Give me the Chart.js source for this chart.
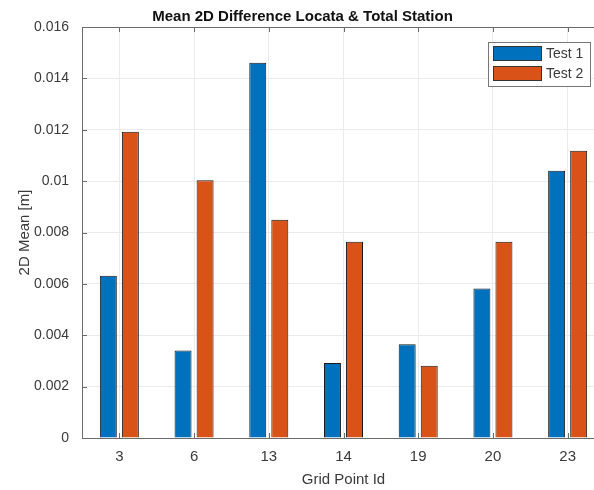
<!DOCTYPE html>
<html>
<head>
<meta charset="utf-8">
<script src="https://cdn.jsdelivr.net/npm/chart.js@4.4.0/dist/chart.umd.min.js"></script>
<style>
  html, body { margin: 0; padding: 0; background: #fff; overflow: hidden; }
  #wrap { width: 610px; height: 490px; }
</style>
</head>
<body>
<div id="wrap"><canvas id="chart" width="610" height="490"></canvas></div>
<script>
// data
const gridPoints = ['3', '6', '13', '14', '19', '20', '23'];
const test1 = [0.00632, 0.00341, 0.01461, 0.00292, 0.00365, 0.00582, 0.01040];
const test2 = [0.01192, 0.01003, 0.00850, 0.00764, 0.00281, 0.00764, 0.01118];
const yTicks = [0, 0.002, 0.004, 0.006, 0.008, 0.01, 0.012, 0.014, 0.016];

const textColor = '#3a3a3a';
const axisColor = '#6b6b6b';

// MATLAB style: box round the axes and inward tick marks
const axesBox = {
  id: 'axesBox',
  afterDraw(chart) {
    const { ctx, chartArea: a, scales } = chart;
    ctx.save();
    ctx.strokeStyle = axisColor;
    ctx.lineWidth = 1;
    ctx.beginPath();
    scales.y.ticks.forEach(t => {
      const y = Math.round(scales.y.getPixelForValue(t.value)) + 0.5;
      ctx.moveTo(a.left, y); ctx.lineTo(a.left + 5, y);
    });
    scales.x.ticks.forEach((t, i) => {
      const x = Math.round(scales.x.getPixelForTick(i)) + 0.5;
      ctx.moveTo(x, a.bottom); ctx.lineTo(x, a.bottom - 5);
      ctx.moveTo(x, a.top); ctx.lineTo(x, a.top + 5);
    });
    ctx.stroke();
    ctx.strokeRect(Math.round(a.left) + 0.5, Math.round(a.top) + 0.5, a.right - a.left, a.bottom - a.top);
    ctx.restore();
  }
};

// legend box in the north-east corner
const insetLegend = {
  id: 'insetLegend',
  afterDraw(chart) {
    const { ctx, chartArea: a } = chart;
    const x0 = a.right - 117, y0 = a.top + 15, w = 102, h = 44;
    ctx.save();
    ctx.fillStyle = '#fff';
    ctx.fillRect(x0, y0, w, h);
    ctx.strokeStyle = '#777';
    ctx.lineWidth = 1;
    ctx.strokeRect(x0 + 0.5, y0 + 0.5, w, h);
    ctx.font = '14px "Liberation Sans", Arial, sans-serif';
    ctx.textBaseline = 'middle';
    chart.data.datasets.forEach((ds, i) => {
      const ry = y0 + 4 + i * 20;
      ctx.fillStyle = ds.backgroundColor;
      ctx.fillRect(x0 + 5, ry, 48, 14);
      ctx.strokeStyle = '#333';
      ctx.strokeRect(x0 + 5.5, ry + 0.5, 48, 14);
      ctx.fillStyle = textColor;
      ctx.fillText(ds.label, x0 + 58, ry + 8);
    });
    ctx.restore();
  }
};

const ctx = document.getElementById('chart').getContext('2d');

new Chart(ctx, {
  type: 'bar',
  data: {
    labels: gridPoints,
    datasets: [
      { label: 'Test 1', data: test1, backgroundColor: '#0072BD', borderColor: '#1a1a1a', borderWidth: 1 },
      { label: 'Test 2', data: test2, backgroundColor: '#D95319', borderColor: '#1a1a1a', borderWidth: 1 }
    ]
  },
  options: {
    responsive: false,
    animation: false,
    categoryPercentage: 0.59,
    barPercentage: 0.77,
    layout: { padding: { left: 0, right: 5, top: 0, bottom: 0 } },
    plugins: {
      legend: { display: false },
      tooltip: { enabled: false },
      title: {
        display: true,
        text: 'Mean 2D Difference Locata & Total Station',
        color: '#111',
        font: { family: '"Liberation Sans", Arial, sans-serif', size: 15, weight: 'bold' },
        padding: { top: 8, bottom: 1 }
      }
    },
    scales: {
      x: {
        offset: true,
        grid: { display: true, offset: false, color: '#ebebeb', drawTicks: false },
        border: { display: false },
        ticks: {
          color: textColor,
          padding: 10,
          font: { family: '"Liberation Sans", Arial, sans-serif', size: 15 }
        },
        title: {
          display: true,
          text: 'Grid Point Id',
          color: textColor,
          font: { family: '"Liberation Sans", Arial, sans-serif', size: 15 },
          padding: { top: 0, bottom: 1 }
        },
        afterFit: s => { s.height = 52; }
      },
      y: {
        min: 0,
        max: 0.016,
        grid: { color: '#ebebeb', drawTicks: false },
        border: { display: false },
        afterBuildTicks: s => { s.ticks = yTicks.map(v => ({ value: v })); },
        ticks: {
          color: textColor,
          padding: 13,
          font: { family: '"Liberation Sans", Arial, sans-serif', size: 14 },
          callback: v => String(parseFloat(v.toFixed(3)))
        },
        title: {
          display: true,
          text: '2D Mean [m]',
          color: textColor,
          font: { family: '"Liberation Sans", Arial, sans-serif', size: 15 },
          padding: { top: 16, bottom: 0 }
        },
        afterFit: s => { s.width = 82; }
      }
    }
  },
  plugins: [axesBox, insetLegend]
});
</script>
</body>
</html>
